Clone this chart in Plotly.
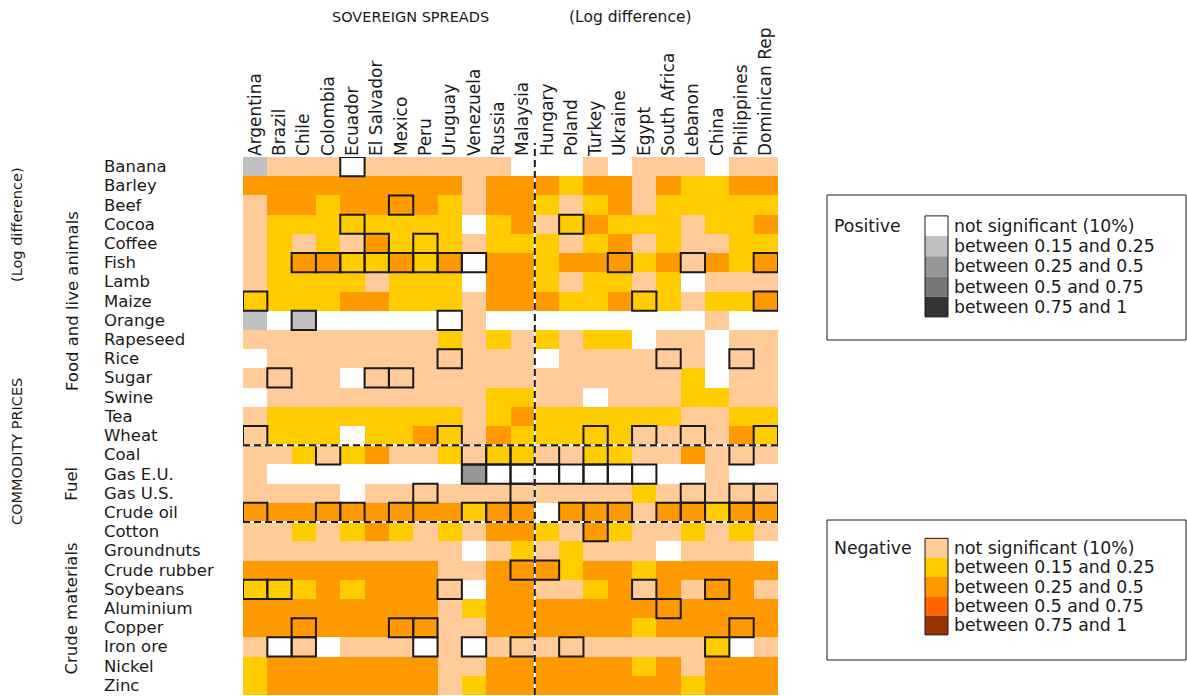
import plotly.graph_objects as go

# ---- categories -------------------------------------------------------------
countries = ["Argentina", "Brazil", "Chile", "Colombia", "Ecuador", "El Salvador",
             "Mexico", "Peru", "Uruguay", "Venezuela", "Russia", "Malaysia",
             "Hungary", "Poland", "Turkey", "Ukraine", "Egypt", "South Africa",
             "Lebanon", "China", "Philippines", "Dominican Rep"]

commodities = ["Banana", "Barley", "Beef", "Cocoa", "Coffee", "Fish", "Lamb",
               "Maize", "Orange", "Rapeseed", "Rice", "Sugar", "Swine", "Tea",
               "Wheat", "Coal", "Gas E.U.", "Gas U.S.", "Crude oil", "Cotton",
               "Groundnuts", "Crude rubber", "Soybeans", "Aluminium", "Copper",
               "Iron ore", "Nickel", "Zinc"]

groups = [("Food and live animals", "Banana", "Wheat"),
          ("Fuel", "Coal", "Crude oil"),
          ("Crude materials", "Cotton", "Zinc")]

# ---- correlation classes per commodity (one letter per country) ------------
# positive: W not significant, L 0.15-0.25, M 0.25-0.5, D 0.5-0.75, K 0.75-1
# negative: P not significant, Y 0.15-0.25, O 0.25-0.5, R 0.5-0.75, B 0.75-1
classes = [
    "LPPPWPPPPPPWWWPWPPPWPP",  # Banana
    "OOOOOOOOOPOOOYOOPOYYOO",  # Barley
    "POOYOOOOYPOOYPYOPYYYYY",  # Beef
    "PYYYYYYYYWYOPYOYYYPYYO",  # Cocoa
    "PYPYPOYYYPYYYPYOPYPPYY",  # Coffee
    "PYOOYYOYOWOOYOOOYOPOYO",  # Fish
    "PYYYYPYYYWOOYPYYPYWPPP",  # Lamb
    "YYYYOOYYYPOOOYYOYYPYYO",  # Maize
    "LWLWWWWWWPWWWWWWWWWPWW",  # Orange
    "PPPPPPPPYPYPYPYYWPPWPP",  # Rapeseed
    "WPPPPPPPPPPPWPPPPPPWPP",  # Rice
    "PPPPWPPPPPPPPPPPPPYWPP",  # Sugar
    "WPPPPPPPPPYYPPWPPPYYPP",  # Swine
    "PYYYYYYYYPYOYYYYYYPPYY",  # Tea
    "PYYYWYYOYPOYYYYYPPPPOY",  # Wheat
    "PPYPYOPPYPYYPPYYPPOPPP",  # Coal
    "PWWWWWWWWMWWWWWWWWWPWW",  # Gas E.U.
    "PPPPWPPPPPPPPPPPYPPPPP",  # Gas U.S.
    "OOOOOOOOOYOOWOOOPOOYOO",  # Crude oil
    "PPYPYOYPYPOOYPOYPPYPYP",  # Cotton
    "PPPPPPPPPWPYPYPPPWPPPW",  # Groundnuts
    "OOOOOOOOPPOOOYOOYOOOOO",  # Crude rubber
    "YYYOYOOOPWOOPPYOPOPOOP",  # Soybeans
    "OOOOOOOOPYOOOOOOOOOOOO",  # Aluminium
    "OOOOOOOOPPOOOOOOYOOOOO",  # Copper
    "PWPWPPPWPWPPPPPPPPPYWP",  # Iron ore
    "YOOOOOOOPPOOOOOOYOPOOO",  # Nickel
    "YOOOOOOOPYOOOOOOOOYOOO",  # Zinc
]

# cells drawn with a black outline
boxed_cells = [
    ("Banana", "Ecuador"), ("Beef", "Mexico"),
    ("Cocoa", "Ecuador"), ("Cocoa", "Poland"),
    ("Coffee", "El Salvador"), ("Coffee", "Peru"),
    ("Fish", "Chile"), ("Fish", "Colombia"), ("Fish", "Ecuador"),
    ("Fish", "El Salvador"), ("Fish", "Mexico"), ("Fish", "Peru"),
    ("Fish", "Uruguay"), ("Fish", "Venezuela"), ("Fish", "Ukraine"),
    ("Fish", "Lebanon"), ("Fish", "Dominican Rep"),
    ("Maize", "Argentina"), ("Maize", "Egypt"), ("Maize", "Dominican Rep"),
    ("Orange", "Chile"), ("Orange", "Uruguay"),
    ("Rice", "Uruguay"), ("Rice", "South Africa"), ("Rice", "Philippines"),
    ("Sugar", "Brazil"), ("Sugar", "El Salvador"), ("Sugar", "Mexico"),
    ("Wheat", "Argentina"), ("Wheat", "Uruguay"), ("Wheat", "Turkey"),
    ("Wheat", "Egypt"), ("Wheat", "Lebanon"), ("Wheat", "Dominican Rep"),
    ("Coal", "Colombia"), ("Coal", "Venezuela"), ("Coal", "Russia"),
    ("Coal", "Malaysia"), ("Coal", "Hungary"), ("Coal", "Turkey"),
    ("Coal", "Philippines"),
    ("Gas E.U.", "Venezuela"), ("Gas E.U.", "Russia"), ("Gas E.U.", "Malaysia"),
    ("Gas E.U.", "Hungary"), ("Gas E.U.", "Poland"), ("Gas E.U.", "Turkey"),
    ("Gas E.U.", "Ukraine"), ("Gas E.U.", "Egypt"),
    ("Gas U.S.", "Peru"), ("Gas U.S.", "Malaysia"), ("Gas U.S.", "Lebanon"),
    ("Gas U.S.", "Philippines"), ("Gas U.S.", "Dominican Rep"),
    ("Crude oil", "Argentina"), ("Crude oil", "Colombia"), ("Crude oil", "Ecuador"),
    ("Crude oil", "Mexico"), ("Crude oil", "Venezuela"), ("Crude oil", "Russia"),
    ("Crude oil", "Malaysia"), ("Crude oil", "Poland"), ("Crude oil", "Turkey"),
    ("Crude oil", "Ukraine"), ("Crude oil", "South Africa"), ("Crude oil", "Lebanon"),
    ("Crude oil", "China"), ("Crude oil", "Philippines"), ("Crude oil", "Dominican Rep"),
    ("Cotton", "Turkey"),
    ("Crude rubber", "Malaysia"), ("Crude rubber", "Hungary"),
    ("Soybeans", "Argentina"), ("Soybeans", "Brazil"), ("Soybeans", "Uruguay"),
    ("Soybeans", "Egypt"), ("Soybeans", "China"),
    ("Aluminium", "South Africa"),
    ("Copper", "Chile"), ("Copper", "Mexico"), ("Copper", "Peru"),
    ("Copper", "Philippines"),
    ("Iron ore", "Brazil"), ("Iron ore", "Chile"), ("Iron ore", "Peru"),
    ("Iron ore", "Venezuela"), ("Iron ore", "Malaysia"), ("Iron ore", "Poland"),
    ("Iron ore", "China"),
]

class_codes = "WLMDKPYORB"
positive_colors = ["#FFFFFF", "#C0C0C0", "#969696", "#777777", "#333333"]
negative_colors = ["#FFCC99", "#FFCC00", "#FF9900", "#FF6600", "#993300"]
class_labels = ["not significant (10%)", "between 0.15 and 0.25",
                "between 0.25 and 0.5", "between 0.5 and 0.75", "between 0.75 and 1"]

# ---- geometry of the page ------------------------------------------------------
FIG_W, FIG_H = 1187, 696
LEFT, TOP = 243, 157
PLOT_W, PLOT_H = 535, 538
FONT = "DejaVu Sans"
INK = "#1a1a1a"
LABEL_SIZE = 16.5
LEGEND_SIZE = 17.3


def px(x):
    return (x - LEFT) / PLOT_W


def py(y):
    return 1 - (y - TOP) / PLOT_H


# ---- heatmap -----------------------------------------------------------------
z = [[class_codes.index(ch) for ch in row] for row in classes]
all_colors = positive_colors + negative_colors
n = len(all_colors)
colorscale = []
for i, c in enumerate(all_colors):
    colorscale.append([i / n, c])
    colorscale.append([(i + 1) / n, c])

fig = go.Figure(go.Heatmap(
    z=z,
    x=list(range(len(countries))),
    y=list(range(len(commodities))),
    zmin=-0.5, zmax=n - 0.5,
    colorscale=colorscale,
    showscale=False,
    hoverinfo="skip",
))

shapes = []

# outlined cells
for com, cty in boxed_cells:
    r = commodities.index(com)
    c = countries.index(cty)
    shapes.append(dict(type="rect", xref="x", yref="y",
                       x0=c - 0.5, x1=c + 0.5, y0=r - 0.5, y1=r + 0.5,
                       line=dict(color=INK, width=2), layer="above"))

# dashed separators between regions and commodity groups
split_col = countries.index("Hungary") - 0.5
for g in groups[:-1]:
    yb = commodities.index(g[2]) + 0.5
    shapes.append(dict(type="line", xref="x", yref="y", x0=-0.5, x1=len(countries) - 0.5,
                       y0=yb, y1=yb, line=dict(color="white", width=2)))
    shapes.append(dict(type="line", xref="x", yref="y", x0=-0.5, x1=len(countries) - 0.5,
                       y0=yb, y1=yb, line=dict(color=INK, width=2, dash="7px,4px")))
shapes.append(dict(type="line", xref="x", yref="paper", x0=split_col, x1=split_col,
                   y0=0, y1=py(143), line=dict(color="white", width=2)))
shapes.append(dict(type="line", xref="x", yref="paper", x0=split_col, x1=split_col,
                   y0=0, y1=py(143), line=dict(color=INK, width=2, dash="7px,4px")))

annotations = []


def text_font(size=LABEL_SIZE):
    return dict(family=FONT, size=size, color=INK)


# commodity labels
for i, name in enumerate(commodities):
    annotations.append(dict(x=px(102), xref="paper", y=i, yref="y", text=name,
                            xanchor="left", yanchor="middle", showarrow=False,
                            font=text_font()))

# group labels
for title, first, last in groups:
    yc = (commodities.index(first) + commodities.index(last)) / 2
    annotations.append(dict(x=px(72), xref="paper", y=yc, yref="y", text=title,
                            textangle=-90, xanchor="center", yanchor="middle",
                            showarrow=False, font=text_font()))

# axis titles
annotations += [
    dict(x=px(17), xref="paper", y=py(452), yref="paper", text="COMMODITY PRICES",
         textangle=-90, xanchor="center", yanchor="middle", showarrow=False,
         font=text_font(14.5)),
    dict(x=px(17), xref="paper", y=py(225), yref="paper", text="(Log difference)",
         textangle=-90, xanchor="center", yanchor="middle", showarrow=False,
         font=text_font(14.5)),
    dict(x=px(410), xref="paper", y=py(17), yref="paper", text="SOVEREIGN SPREADS",
         xanchor="center", yanchor="middle", showarrow=False, font=text_font(14.5)),
    dict(x=px(630), xref="paper", y=py(17), yref="paper", text="(Log difference)",
         xanchor="center", yanchor="middle", showarrow=False, font=text_font(15.5)),
]


# legend panels
def legend_panel(title, colors, frame_top, frame_bottom, first_center, step):
    shapes.append(dict(type="rect", xref="paper", yref="paper",
                       x0=px(827), x1=px(1186), y0=py(frame_bottom), y1=py(frame_top),
                       line=dict(color=INK, width=1), fillcolor="rgba(0,0,0,0)"))
    annotations.append(dict(x=px(832), xref="paper", y=py(first_center), yref="paper",
                            text=title, xanchor="left", yanchor="middle", showarrow=False,
                            font=text_font(LEGEND_SIZE)))
    for k, (col, lab) in enumerate(zip(colors, class_labels)):
        yc = first_center + k * step
        shapes.append(dict(type="rect", xref="paper", yref="paper",
                           x0=px(925), x1=px(948),
                           y0=py(yc + step / 2), y1=py(yc - step / 2),
                           fillcolor=col, line=dict(width=0)))
        annotations.append(dict(x=px(952), xref="paper", y=py(yc), yref="paper",
                                text=lab, xanchor="left", yanchor="middle",
                                showarrow=False, font=text_font(LEGEND_SIZE)))
    shapes.append(dict(type="rect", xref="paper", yref="paper",
                       x0=px(925), x1=px(948),
                       y0=py(first_center + 4.5 * step), y1=py(first_center - step / 2),
                       line=dict(color=INK, width=1), fillcolor="rgba(0,0,0,0)"))


legend_panel("Positive", positive_colors, 195, 340, 226, 20.2)
legend_panel("Negative", negative_colors, 520, 660, 548, 19.3)

fig.update_layout(
    width=FIG_W, height=FIG_H, autosize=False,
    margin=dict(l=LEFT, r=FIG_W - LEFT - PLOT_W, t=TOP, b=FIG_H - TOP - PLOT_H, pad=0),
    paper_bgcolor="white", plot_bgcolor="white",
    xaxis=dict(side="top", tickmode="array", tickvals=list(range(len(countries))),
               ticktext=countries, tickangle=-90, range=[-0.5, len(countries) - 0.5],
               showgrid=False, zeroline=False, showline=False, ticks="",
               tickfont=text_font(17)),
    yaxis=dict(range=[len(commodities) - 0.5, -0.5], showticklabels=False,
               showgrid=False, zeroline=False, showline=False, ticks=""),
    shapes=shapes,
    annotations=annotations,
)

fig.write_html("out.html")
